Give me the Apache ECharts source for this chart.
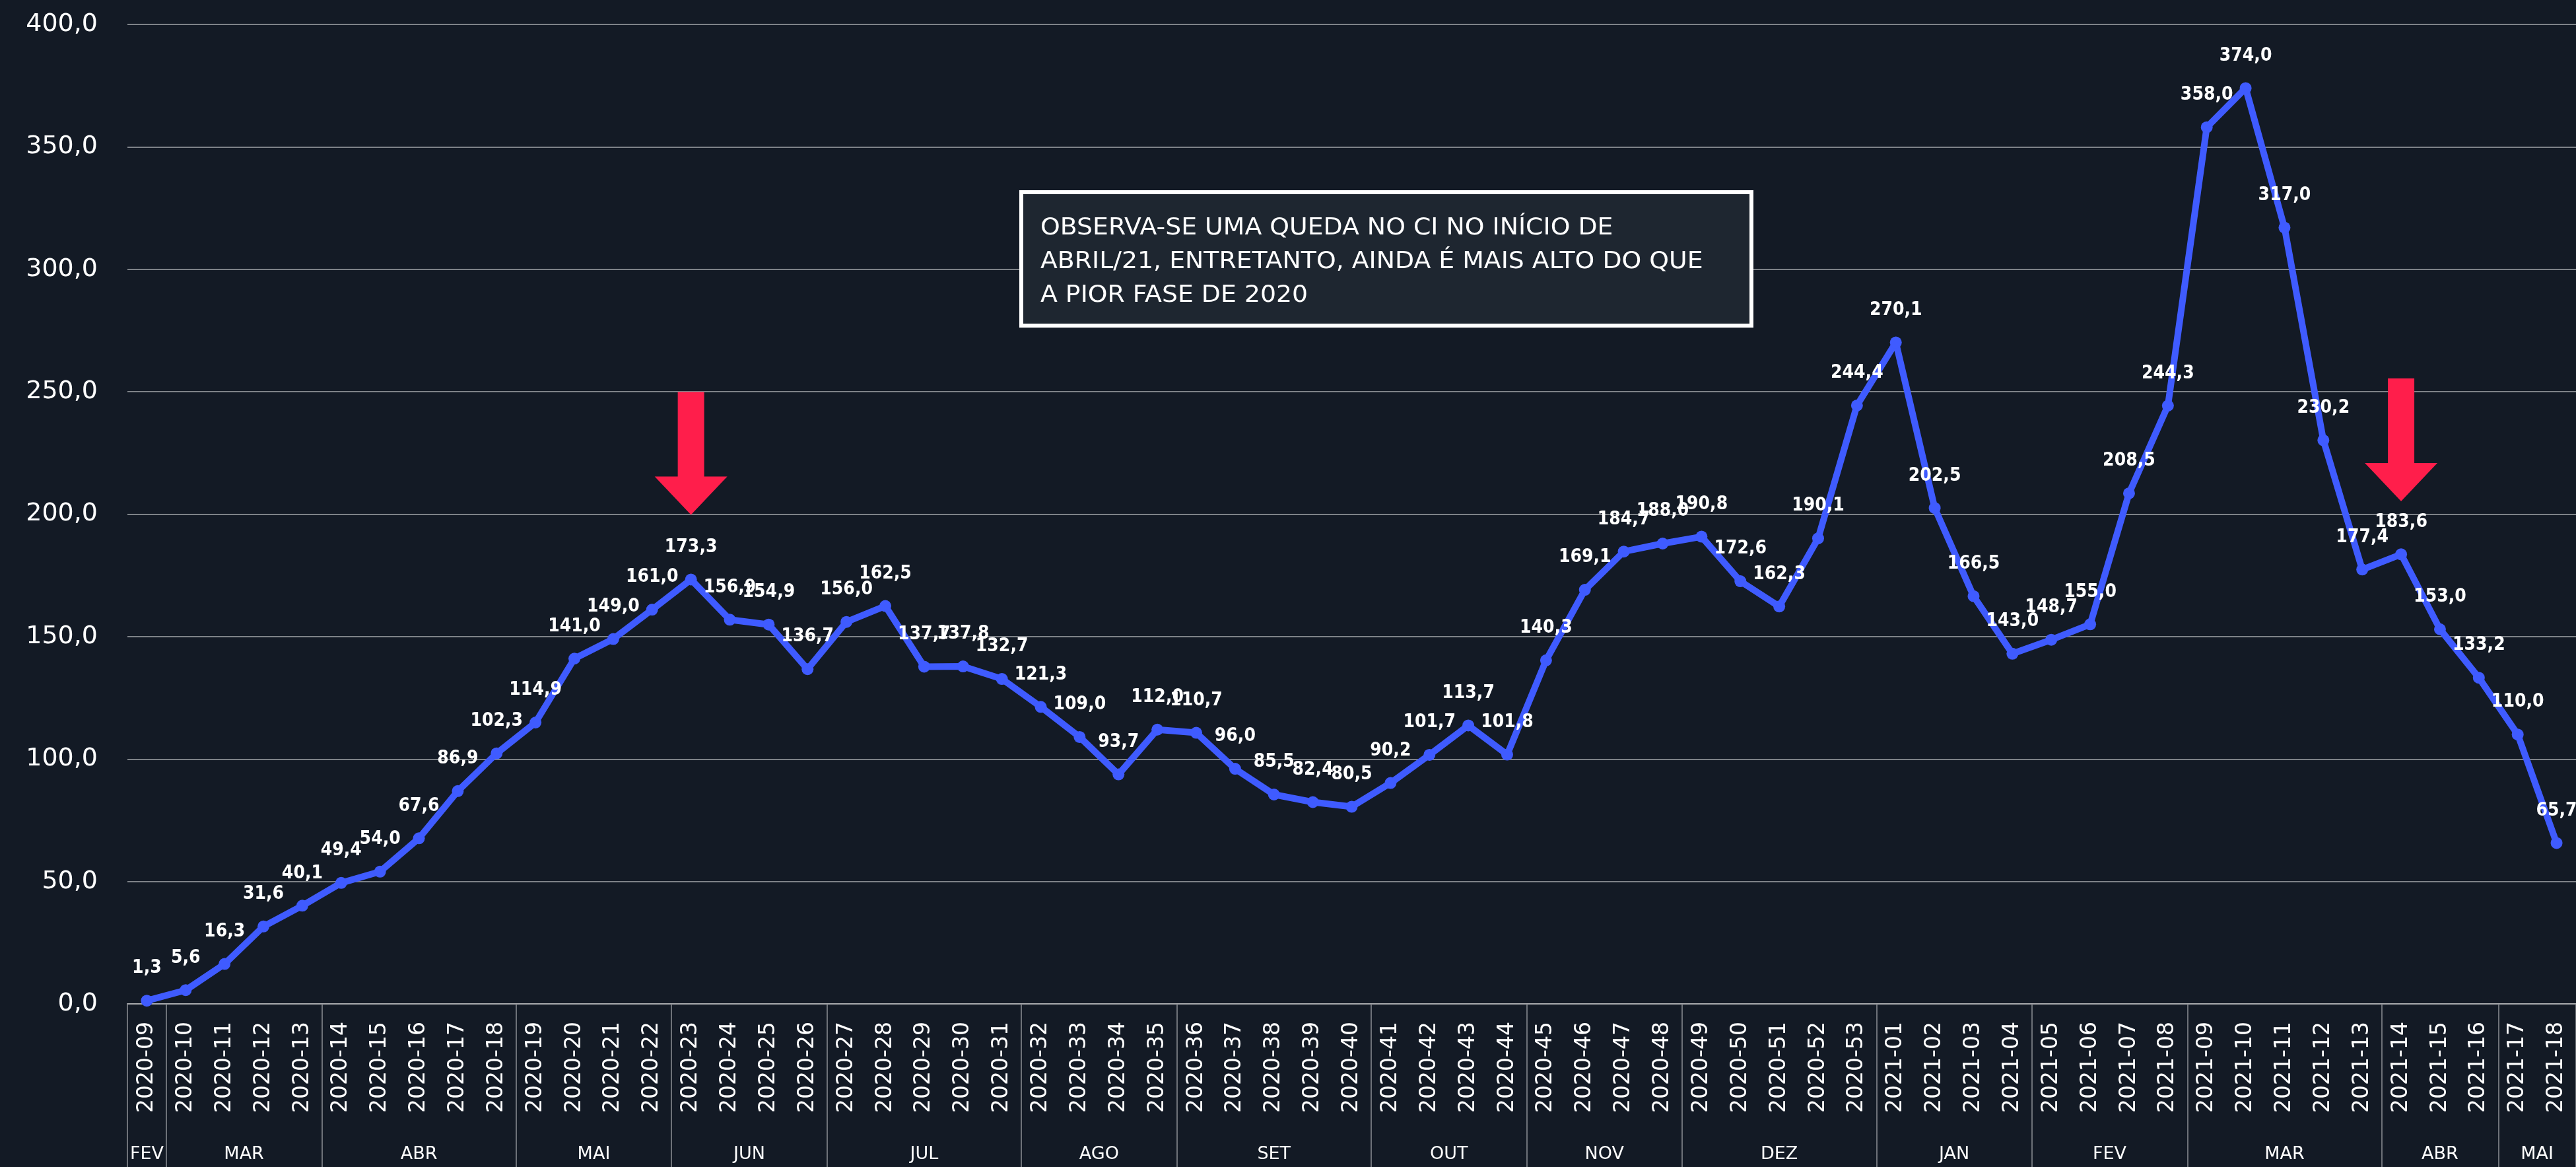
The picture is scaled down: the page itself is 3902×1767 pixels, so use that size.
<!DOCTYPE html>
<html>
<head>
<meta charset="utf-8">
<script src="https://cdn.jsdelivr.net/npm/echarts@6/dist/echarts.min.js"></script>
<style>
  html, body { margin: 0; padding: 0; background: #131a25; }
  #ci_container { width: 3902px; height: 1767px; }
</style>
</head>
<body>
<div id="ci_container"></div>
<script>
// semanas epidemiológicas
var weeks = [
  '2020-09', '2020-10', '2020-11', '2020-12', '2020-13', '2020-14', '2020-15', '2020-16', '2020-17', '2020-18',
  '2020-19', '2020-20', '2020-21', '2020-22', '2020-23', '2020-24', '2020-25', '2020-26', '2020-27', '2020-28',
  '2020-29', '2020-30', '2020-31', '2020-32', '2020-33', '2020-34', '2020-35', '2020-36', '2020-37', '2020-38',
  '2020-39', '2020-40', '2020-41', '2020-42', '2020-43', '2020-44', '2020-45', '2020-46', '2020-47', '2020-48',
  '2020-49', '2020-50', '2020-51', '2020-52', '2020-53',
  '2021-01', '2021-02', '2021-03', '2021-04', '2021-05', '2021-06', '2021-07', '2021-08', '2021-09', '2021-10',
  '2021-11', '2021-12', '2021-13', '2021-14', '2021-15', '2021-16', '2021-17', '2021-18'
]

// coeficiente de incidência por semana
var ciValues = [
  1.3, 5.6, 16.3, 31.6, 40.1, 49.4, 54.0, 67.6, 86.9, 102.3,
  114.9, 141.0, 149.0, 161.0, 173.3, 156.9, 154.9, 136.7, 156.0, 162.5,
  137.7, 137.8, 132.7, 121.3, 109.0, 93.7, 112.0, 110.7, 96.0, 85.5,
  82.4, 80.5, 90.2, 101.7, 113.7, 101.8, 140.3, 169.1, 184.7, 188.0,
  190.8, 172.6, 162.3, 190.1, 244.4,
  270.1, 202.5, 166.5, 143.0, 148.7, 155.0, 208.5, 244.3, 358.0, 374.0,
  317.0, 230.2, 177.4, 183.6, 153.0, 133.2, 110.0, 65.7
]

// meses e quantas semanas cada um ocupa no eixo
var monthNames = ['FEV', 'MAR', 'ABR', 'MAI', 'JUN', 'JUL', 'AGO', 'SET', 'OUT', 'NOV', 'DEZ', 'JAN', 'FEV', 'MAR', 'ABR', 'MAI']
var monthWeeks = [1, 4, 5, 4, 4, 5, 4, 5, 4, 4, 5, 4, 4, 5, 3, 2]

// setas: semana, topo e ponta (valor no eixo y)
var arrowWeeks = ['2020-23', '2021-14']
var arrowTop = [250.0, 255.4]
var arrowTip = [199.6, 205.3]

var noteLines = [
  'OBSERVA-SE UMA QUEDA NO CI NO INÍCIO DE',
  'ABRIL/21, ENTRETANTO, AINDA É MAIS ALTO DO QUE',
  'A PIOR FASE DE 2020'
]

function fmt(v) {
  return Number(v).toFixed(1).replace('.', ',')
}

function draw_ci_chart() {
  // limites e centros dos meses
  var monthStarts = []
  var monthCenters = []
  var acc = 0
  for (var i = 0; i < monthWeeks.length; i++) {
    monthStarts.push(acc)
    monthCenters.push(acc + monthWeeks[i] / 2)
    acc += monthWeeks[i]
  }

  var dom = document.getElementById('ci_container')
  var myChart = echarts.init(dom)

  var arrowData = []
  for (var k = 0; k < arrowWeeks.length; k++) {
    arrowData.push({
      coord: [arrowWeeks[k], (arrowTop[k] + arrowTip[k]) / 2],
      symbolSize: [110, 186]
    })
  }

  var option = {
    backgroundColor: '#131a25',
    animation: false,
    grid: {
      left: 193,
      right: 0,
      top: 37,
      bottom: 247,
      containLabel: false,
      outerBoundsMode: 'none'
    },
    xAxis: [
      {
        type: 'category',
        data: weeks,
        position: 'bottom',
        boundaryGap: true,
        axisLine: { lineStyle: { color: '#a9abae', width: 2 } },
        axisTick: {
          show: true,
          interval: function (index) { return monthStarts.indexOf(index) >= 0 },
          length: 247,
          lineStyle: { color: '#8d9095', width: 1.5 }
        },
        axisLabel: {
          interval: 0,
          rotate: 90,
          margin: 27,
          color: '#ffffff',
          fontFamily: 'DejaVu Sans',
          fontSize: 33
        },
        splitLine: { show: false }
      },
      {
        // linha dos meses
        type: 'value',
        min: 0,
        max: weeks.length,
        position: 'bottom',
        axisLine: { show: false },
        axisTick: { show: false },
        splitLine: { show: false },
        axisLabel: {
          customValues: monthCenters,
          margin: 214,
          color: '#ffffff',
          fontFamily: 'DejaVu Sans',
          fontSize: 27,
          formatter: function (v) {
            var idx = monthCenters.indexOf(v)
            return idx >= 0 ? monthNames[idx] : ''
          }
        }
      }
    ],
    yAxis: {
      type: 'value',
      min: 0,
      max: 400,
      interval: 50,
      axisLine: { show: false },
      axisTick: { show: false },
      axisLabel: {
        margin: 45,
        color: '#ffffff',
        fontFamily: 'DejaVu Sans',
        fontSize: 38,
        formatter: fmt
      },
      splitLine: { lineStyle: { color: '#a3a6aa', width: 1.5 } }
    },
    series: [
      {
        type: 'line',
        xAxisIndex: 0,
        data: ciValues,
        symbol: 'circle',
        symbolSize: 18,
        lineStyle: { color: '#3f5bff', width: 10 },
        itemStyle: { color: '#3f5bff' },
        label: {
          show: true,
          position: 'top',
          distance: 26,
          color: '#ffffff',
          fontFamily: '"DejaVu Sans Condensed", sans-serif',
          fontWeight: 'bold',
          fontSize: 28,
          formatter: function (p) { return fmt(p.value) }
        },
        markPoint: {
          silent: true,
          symbol: 'path://M35,0L75,0L75,128L110,128L55,186L0,128L35,128Z',
          itemStyle: { color: '#ff1e4b' },
          label: { show: false },
          data: arrowData
        }
      }
    ],
    graphic: [
      {
        type: 'rect',
        shape: { x: 1547, y: 291, width: 1106, height: 202 },
        style: { fill: '#1e2630', stroke: '#ffffff', lineWidth: 6 },
        z: 10
      },
      {
        type: 'text',
        x: 1576,
        y: 320,
        scaleX: 1.05,
        z: 11,
        style: {
          text: noteLines.join('\n'),
          fill: '#ffffff',
          fontFamily: 'DejaVu Sans',
          fontSize: 36,
          lineHeight: 51,
          verticalAlign: 'top'
        }
      }
    ]
  }

  myChart.setOption(option)
  window.addEventListener('resize', myChart.resize)
}

draw_ci_chart()
</script>
</body>
</html>
